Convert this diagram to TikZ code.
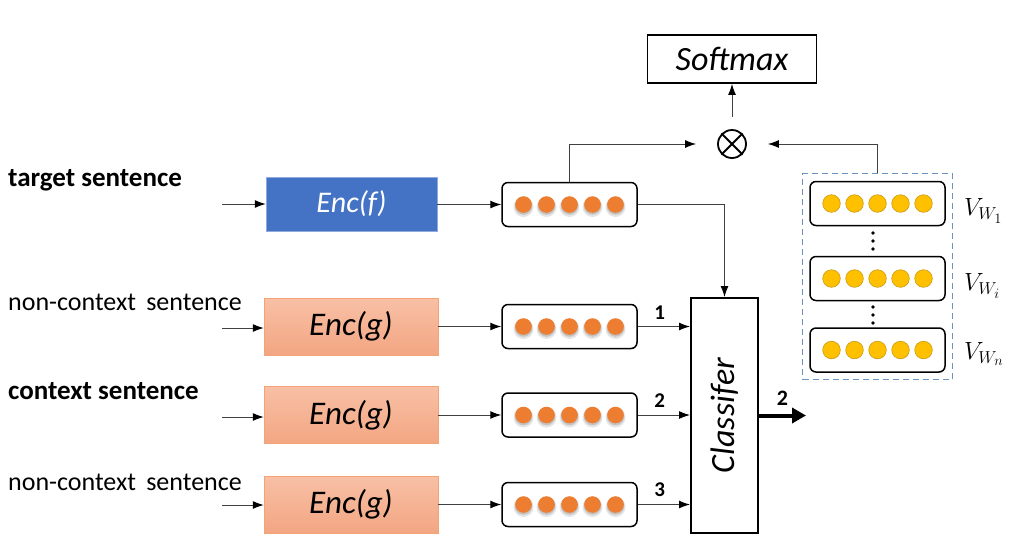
\documentclass[tikz,border=0pt]{standalone}
\usepackage{fontspec}
\setmainfont{Carlito}
\usetikzlibrary{arrows.meta,fit}
\definecolor{encblue}{HTML}{4472C4}
\definecolor{encblueline}{HTML}{8FAADC}
\definecolor{encgtop}{HTML}{F8C0A6}
\definecolor{encgbot}{HTML}{F3A682}
\definecolor{encgline}{HTML}{F4A374}
\definecolor{dotorange}{HTML}{ED7D31}
\definecolor{dotyellow}{HTML}{FFC000}
\definecolor{dotyellowline}{HTML}{C99A10}
\definecolor{dashblue}{HTML}{6A93C0}
\begin{document}
\begin{tikzpicture}[x=1pt, y=-1pt,
    line/.style={draw=black!75, line width=1pt},
    arr/.style={line, -{Latex[length=11pt, width=8pt, color=black]}},
    vecbox/.style={draw, line width=1.5pt, rounded corners=6pt, minimum width=135pt, minimum height=44pt, inner sep=0pt},
    encf/.style={draw=encblueline, fill=encblue, text=white, minimum width=171pt, minimum height=54pt, font=\fontsize{30}{34}\selectfont\itshape},
    encg/.style={draw=encgline, top color=encgtop, bottom color=encgbot, minimum width=174pt, minimum height=57pt, font=\fontsize{33}{37}\selectfont\itshape},
    sent/.style={anchor=west, inner sep=0pt, font=\fontsize{26}{30}\selectfont},
    sentbold/.style={sent, font=\fontsize{27}{31}\selectfont\bfseries},
    num/.style={font=\fontsize{21}{24}\selectfont\bfseries, inner sep=0pt},
    vlabel/.style={anchor=west, inner sep=0pt, font=\fontsize{27}{31}\selectfont}
  ]
    \useasboundingbox (0, 0) rectangle (1014, 558);

    % Nodes
    \node [draw, line width=1.8pt, minimum width=169pt, minimum height=48pt, font=\fontsize{34}{38}\selectfont\itshape] (soft) at (732, 59) {Softmax};
    \node [draw, circle, line width=1.8pt, minimum size=28pt, inner sep=0pt] (ot) at (732, 144) {};
    \draw [line width=1.8pt] (ot.north west) -- (ot.south east) (ot.north east) -- (ot.south west);

    \node [sentbold] (ttarget) at (8, 180) {target sentence};
    \node [sent] (tnon1) at (8, 302) {non-context\, sentence};
    \node [sentbold] (tctx) at (8, 391) {context sentence};
    \node [sent] (tnon2) at (8, 482) {non-context\, sentence};

    \node [encf] (encf) at (351.5, 204) {Enc(f)};
    \node [encg] (enc1) at (351, 326.5) {Enc(g)};
    \node [encg] (enc2) at (351, 415) {Enc(g)};
    \node [encg] (enc3) at (351, 504.5) {Enc(g)};

    \node [vecbox] (vt) at (569.5, 204.5) {};
    \node [vecbox] (v1) at (569.5, 326.5) {};
    \node [vecbox] (v2) at (569.5, 415) {};
    \node [vecbox] (v3) at (569.5, 504.5) {};

    \node [vecbox] (vw1) at (877.5, 203.5) {};
    \node [vecbox] (vwi) at (877.5, 278.5) {};
    \node [vecbox] (vwn) at (877.5, 350) {};
    \node [draw=dashblue, line width=1.4pt, dash pattern=on 6pt off 4pt, fit=(vw1) (vwn), inner xsep=6.5pt, inner ysep=7pt] (dict) {};

    \node [draw, line width=2pt, minimum width=67pt, minimum height=235pt] (cls) at (724.5, 415.5) {};
    \node [rotate=90, font=\fontsize{34}{38}\selectfont\itshape] (clstext) at (cls.center) {Classifer};

    \node [vlabel] (lw1) at (964, 211) {$V_{W_1}$};
    \node [vlabel] (lwi) at (964, 286) {$V_{W_i}$};
    \node [vlabel] (lwn) at (964, 354) {$V_{W_n}$};

    % dots in the vectors
    \foreach \v in {vt, v1, v2, v3} {
      \foreach \k in {-2, ..., 2} {
        \fill [black, opacity=0.10] ([xshift=\k*23pt, yshift=-2.5pt]\v.center) circle (10pt);
        \fill [black, opacity=0.15] ([xshift=\k*23pt, yshift=-1.5pt]\v.center) circle (8.8pt);
        \fill [dotorange] ([xshift=\k*23pt]\v.center) circle (8.3pt);
      }
    }
    \foreach \v in {vw1, vwi, vwn} {
      \foreach \k in {-2, ..., 2}
        \filldraw [fill=dotyellow, draw=dotyellowline, line width=0.6pt] ([xshift=\k*23pt]\v.center) circle (8.8pt);
    }
    \foreach \y in {233, 241, 249, 307, 315, 323}
      \fill (873, \y) circle (1.8pt);

    % Connections
    \coordinate (in0) at (222, 204);
    \coordinate (in1) at (222, 328);
    \coordinate (in2) at (222, 417);
    \coordinate (in3) at (222, 505);
    \draw [arr] (in0) -- (encf.west |- in0);
    \draw [arr] (in1) -- (enc1.west |- in1);
    \draw [arr] (in2) -- (enc2.west |- in2);
    \draw [arr] (in3) -- (enc3.west |- in3);

    \draw [arr] (encf.east |- vt) -- (vt.west);
    \draw [arr] (enc1.east) -- (v1.west);
    \draw [arr] (enc2.east) -- (v2.west);
    \draw [arr] (enc3.east) -- (v3.west);

    \draw [arr] (v1.east) -- (cls.west |- v1) node [num, pos=0.42, above=7pt] {1};
    \draw [arr] (v2.east) -- (cls.west |- v2) node [num, pos=0.42, above=7pt] {2};
    \draw [arr] (v3.east) -- (cls.west |- v3) node [num, pos=0.42, above=7pt] {3};

    \draw [arr] (vt.east) -| (cls.north);
    \draw [arr, shorten >=21pt] (vt.north) |- (ot.west);
    \draw [arr, shorten >=21pt] (dict.north) |- (ot.east);
    \draw [arr, shorten <=12pt] (ot.north) -- (soft.south);

    \coordinate (out) at (806, 415.5);
    \draw [line width=4pt, -{Triangle[length=14pt, width=15pt]}] (cls.east) -- (out) node [num, font=\fontsize{22}{25}\selectfont\bfseries, midway, above=8pt] {2};
  \end{tikzpicture}
\end{document}
